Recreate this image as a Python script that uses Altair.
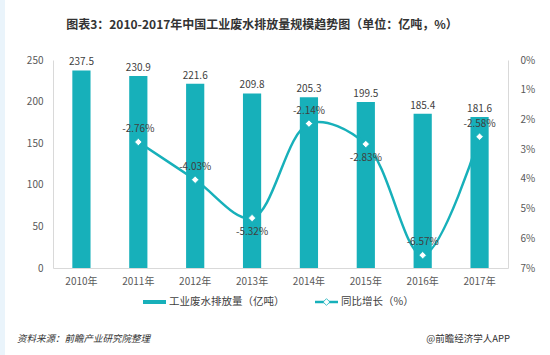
import altair as alt
import pandas as pd

years = ["2010年", "2011年", "2012年", "2013年", "2014年", "2015年", "2016年", "2017年"]
volume = [237.5, 230.9, 221.6, 209.8, 205.3, 199.5, 185.4, 181.6]
growth = [None, -2.76, -4.03, -5.32, -2.14, -2.83, -6.57, -2.58]
below_label_years = ["2013年", "2015年"]

df = pd.DataFrame({"year": years, "volume": volume, "growth": growth})

FONT = "Noto Sans CJK SC"
TEAL = "#17B0BA"
W, H = 455, 208

base = alt.Chart(df)
x = alt.X("year:N", sort=years, title=None,
          scale=alt.Scale(paddingInner=0.68, paddingOuter=0.34),
          axis=alt.Axis(labelAngle=0, ticks=False, domainColor="#d9d9d9",
                        labelColor="#595959", labelFont=FONT, labelFontSize=10,
                        labelPadding=8))

yl = alt.Y("volume:Q", title=None,
           scale=alt.Scale(domain=[0, 250], nice=False),
           axis=alt.Axis(values=[0, 50, 100, 150, 200, 250], grid=False, ticks=False,
                         domainColor="#d9d9d9", labelColor="#595959", labelFont=FONT,
                         labelFontSize=10, labelPadding=10))

bars = base.mark_bar(color=TEAL).encode(x=x, y=yl)
bar_labels = base.mark_text(dy=-8, font=FONT, fontSize=10, color="#404040").encode(
    x=x, y=yl, text=alt.Text("volume:Q", format=".1f"))
left = alt.layer(bars, bar_labels)

yr = alt.Y("growth:Q", title=None,
           scale=alt.Scale(domain=[-7, 0], nice=False),
           axis=alt.Axis(orient="right", values=[0, -1, -2, -3, -4, -5, -6, -7], grid=False,
                         ticks=False, domainColor="#d9d9d9", labelColor="#595959",
                         labelFont=FONT, labelFontSize=10, labelPadding=12,
                         labelExpr="abs(datum.value) + '%'"))

gbase = base.transform_filter("isValid(datum.growth)").transform_calculate(
    label="'-' + format(abs(datum.growth), '.2f') + '%'")
line = gbase.mark_line(color=TEAL, strokeWidth=2.5, interpolate="catmull-rom").encode(x=x, y=yr)
pts = gbase.mark_point(shape="diamond", filled=True, fill="white", stroke=TEAL,
                       strokeWidth=0.8, size=55, opacity=1).encode(x=x, y=yr)
below_list = "[" + ",".join('"' + v + '"' for v in below_label_years) + "]"
lab_above = gbase.transform_filter(
    "indexof(" + below_list + ", datum.year) < 0"
).mark_text(dy=-13, font=FONT, fontSize=10, color="#404040").encode(x=x, y=yr, text="label:N")
lab_below = gbase.transform_filter(
    alt.FieldOneOfPredicate(field="year", oneOf=below_label_years)
).mark_text(dy=14, font=FONT, fontSize=10, color="#404040").encode(x=x, y=yr, text="label:N")
right = alt.layer(line, pts, lab_above, lab_below)

# legend and footer
one = pd.DataFrame({"a": [0]})
ob = alt.Chart(one)
leg_rect = ob.mark_rect(color=TEAL).encode(x=alt.value(90), x2=alt.value(113),
                                           y=alt.value(240), y2=alt.value(244))
leg_t1 = ob.mark_text(align="left", baseline="middle", font=FONT, fontSize=10.5,
                      color="#404040").encode(x=alt.value(116), y=alt.value(242),
                                              text=alt.value("工业废水排放量（亿吨）"))
leg_line = ob.mark_rule(color=TEAL, strokeWidth=2.5).encode(
    x=alt.value(262), x2=alt.value(285), y=alt.value(242))
leg_pt = ob.mark_point(shape="diamond", filled=True, fill="white", stroke=TEAL,
                       strokeWidth=0.8, size=45, opacity=1).encode(
    x=alt.value(273.5), y=alt.value(242))
leg_t2 = ob.mark_text(align="left", baseline="middle", font=FONT, fontSize=10.5,
                      color="#404040").encode(x=alt.value(288), y=alt.value(242),
                                              text=alt.value("同比增长（%）"))
foot_l = ob.mark_text(align="left", baseline="middle", font=FONT, fontSize=9.5,
                      fontStyle="italic", color="#333333").encode(
    x=alt.value(-36), y=alt.value(279), text=alt.value("资料来源：前瞻产业研究院整理"))
foot_r = ob.mark_text(align="right", baseline="middle", font=FONT, fontSize=9.5,
                      color="#333333").encode(
    x=alt.value(457), y=alt.value(279), text=alt.value("@前瞻经济学人APP"))
strip = ob.mark_rect(color="#EAF4FB").encode(x=alt.value(-53), x2=alt.value(-48),
                                             y=alt.value(-60), y2=alt.value(295))
title = ob.mark_text(align="center", baseline="middle", font=FONT, fontSize=12,
                     fontWeight="bold", color="#333333").encode(
    x=alt.value(209), y=alt.value(-35),
    text=alt.value("图表3：2010-2017年中国工业废水排放量规模趋势图（单位：亿吨，%）"))

chart = alt.layer(left, right, leg_rect, leg_t1, leg_line, leg_pt, leg_t2,
                  foot_l, foot_r, strip, title).resolve_scale(y="independent").properties(
    width=W, height=H,
    autosize=alt.AutoSizeParams(type="none"),
    padding={"left": 53, "top": 60, "right": 42, "bottom": 87},
    background="white",
).configure_view(stroke=None)

chart.save("out.html", embed_options={"renderer": "svg", "actions": False})
